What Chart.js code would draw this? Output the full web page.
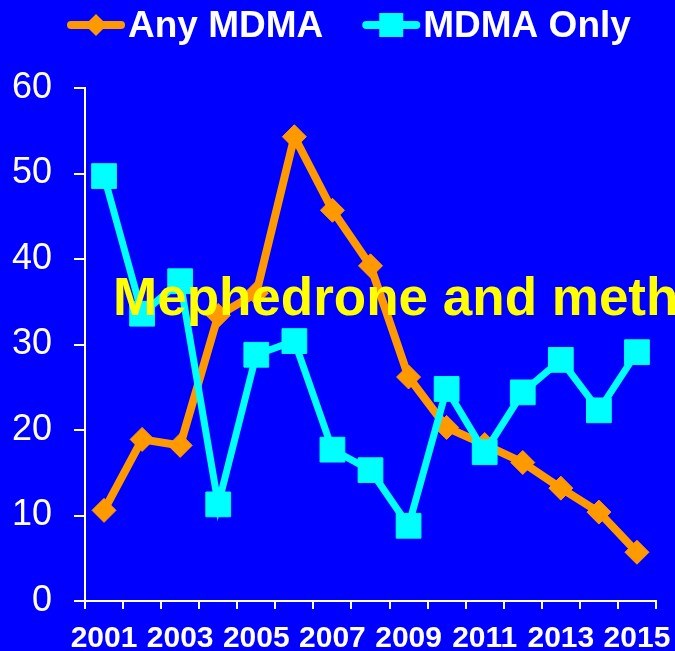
<!DOCTYPE html>
<html><head><meta charset="utf-8">
<script src="https://cdn.jsdelivr.net/npm/chart.js@4"></script>
<style>html,body{margin:0;padding:0;background:#0000FF;overflow:hidden;}#wrap{width:675px;height:651px;}</style>
</head><body><div id="wrap"><canvas id="c" width="675" height="651"></canvas></div>
<script>
const years = ['2001','2002','2003','2004','2005','2006','2007','2008','2009','2010','2011','2012','2013','2014','2015'];
const anyMDMA = [10.6,18.9,18.2,33.4,36.0,54.3,45.7,39.2,26.2,20.3,18.3,16.2,13.2,10.4,5.7];
const mdmaOnly = [49.7,33.6,37.4,11.3,28.8,30.4,17.7,15.3,8.8,24.8,17.4,24.4,28.2,22.3,29.1];
const seriesNames = ['Any MDMA','MDMA Only'];
const seriesColors = ['#FF9900','#00FFFF'];
const overlayText = 'Mephedrone and meth';

const FONT = '"Liberation Sans", Arial, sans-serif';

const bgPlugin = {
  id:'bg',
  beforeDraw(chart){
    const ctx = chart.ctx;
    ctx.save();
    ctx.fillStyle = '#0000FF';
    ctx.fillRect(0,0,chart.width,chart.height);
    ctx.restore();
  }
};

const overlayPlugin = {
  id:'overlay',
  afterDraw(chart){
    const ctx = chart.ctx;
    ctx.save();
    // custom legend: line + marker + label
    ctx.font = 'bold 37px ' + FONT;
    ctx.textBaseline = 'alphabetic';
    ctx.textAlign = 'left';
    let x = 67;
    const yc = 25;
    chart.data.datasets.forEach((ds, i) => {
      ctx.strokeStyle = ds.borderColor;
      ctx.fillStyle = ds.borderColor;
      ctx.lineWidth = 8;
      ctx.lineCap = 'round';
      ctx.beginPath();
      ctx.moveTo(x + 4, yc);
      ctx.lineTo(x + 54, yc);
      ctx.stroke();
      const cx = x + 29;
      ctx.beginPath();
      if (ds.pointStyle === 'rectRot') {
        ctx.moveTo(cx - 11, yc); ctx.lineTo(cx, yc - 11); ctx.lineTo(cx + 11, yc); ctx.lineTo(cx, yc + 11);
        ctx.closePath();
      } else {
        ctx.rect(cx - 12, yc - 12, 24, 24);
      }
      ctx.fill();
      ctx.fillStyle = '#FFFFFF';
      ctx.fillText(ds.label, x + 61, 37);
      x += 61 + ctx.measureText(ds.label).width + 39;
    });
    // overlay text
    ctx.font = 'bold 53px ' + FONT;
    ctx.fillStyle = '#FFFF00';
    ctx.fillText(overlayText, 113, 315);
    ctx.restore();
  }
};

new Chart(document.getElementById('c'), {
  type:'line',
  data:{
    labels: years,
    datasets:[
      {label: seriesNames[0], data: anyMDMA, borderColor: seriesColors[0], backgroundColor: seriesColors[0],
       borderWidth: 8, pointStyle:'rectRot', pointRadius: 12, pointBorderWidth: 1, pointHoverRadius: 12, tension:0, order:2},
      {label: seriesNames[1], data: mdmaOnly, borderColor: seriesColors[1], backgroundColor: seriesColors[1],
       borderWidth: 7, pointStyle:'rect', pointRadius: 17.5, pointBorderWidth: 1, pointHoverRadius: 17.5, tension:0, order:1}
    ]
  },
  options:{
    responsive:false,
    animation:false,
    devicePixelRatio:1,
    layout:{padding:{left:12, right:19, top:88, bottom:0}},
    plugins:{legend:{display:false}, tooltip:{enabled:false}},
    scales:{
      x:{
        type:'category',
        offset:true,
        grid:{offset:true, drawOnChartArea:false, drawTicks:true, tickLength:8, color:'#FFFFFF', lineWidth:2},
        border:{color:'#FFFFFF', width:2},
        ticks:{color:'#FFFFFF', font:{family:FONT, size:30, weight:'bold'}, maxRotation:0, autoSkip:false, padding:12,
          callback:function(v,i){ return i % 2 === 0 ? years[i] : ''; }},
        afterFit:function(s){ s.height = 50; s.paddingLeft = 0; s.paddingRight = 0; }
      },
      y:{
        min:0, max:60,
        grid:{drawOnChartArea:false, drawTicks:true, tickLength:11, color:'#FFFFFF', lineWidth:2},
        border:{color:'#FFFFFF', width:2},
        ticks:{stepSize:10, color:'#FFFFFF', font:{family:FONT, size:36}, padding:22},
        afterFit:function(s){ s.width = 73; s.paddingTop = 0; s.paddingBottom = 0; }
      }
    }
  },
  plugins:[bgPlugin, overlayPlugin]
});
</script>
</body></html>
